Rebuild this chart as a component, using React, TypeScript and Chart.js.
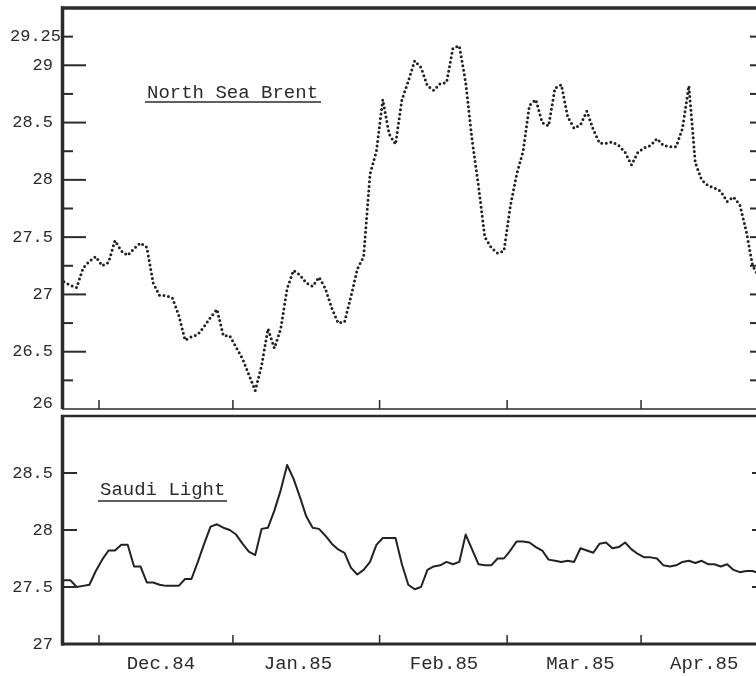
import React, { useEffect, useRef } from 'react';
import { Chart, registerables } from 'chart.js';

Chart.register(...registerables);

// x unit = weekday index, 0 = Mon 3 Dec 1984
const START_INDEX = -6;
const X_MIN = -6.3;
const X_MAX = 103.15;

const brentValues = [
  27.11, 27.08, 27.06, 27.23, 27.29, 27.33, 27.25, 27.28, 27.47, 27.38,
  27.34, 27.40, 27.45, 27.41, 27.10, 26.99, 26.99, 26.97, 26.82, 26.60,
  26.63, 26.65, 26.72, 26.80, 26.87, 26.64, 26.64, 26.54, 26.44, 26.30,
  26.16, 26.38, 26.70, 26.53, 26.70, 27.05, 27.21, 27.17, 27.10, 27.07,
  27.15, 27.05, 26.88, 26.75, 26.76, 26.98, 27.22, 27.33, 28.05, 28.25,
  28.70, 28.40, 28.31, 28.70, 28.86, 29.04, 28.98, 28.82, 28.78, 28.84,
  28.85, 29.15, 29.17, 28.85, 28.35, 27.95, 27.50, 27.41, 27.36, 27.38,
  27.77, 28.05, 28.25, 28.65, 28.70, 28.50, 28.47, 28.80, 28.83, 28.55,
  28.45, 28.48, 28.60, 28.44, 28.32, 28.32, 28.33, 28.30, 28.24, 28.13,
  28.24, 28.28, 28.30, 28.36, 28.30, 28.29, 28.29, 28.45, 28.82, 28.15,
  28.00, 27.95, 27.93, 27.90, 27.81, 27.85, 27.78, 27.55, 27.25, 27.15,
];

const saudiValues = [
  27.56, 27.56, 27.50, 27.51, 27.52, 27.64, 27.74, 27.82, 27.82, 27.87,
  27.87, 27.68, 27.68, 27.54, 27.54, 27.52, 27.51, 27.51, 27.51, 27.57,
  27.57, 27.72, 27.88, 28.03, 28.05, 28.02, 28.00, 27.96, 27.88, 27.81,
  27.78, 28.01, 28.02, 28.17, 28.35, 28.57, 28.45, 28.29, 28.12, 28.02,
  28.01, 27.95, 27.88, 27.83, 27.80, 27.67, 27.61, 27.65, 27.72, 27.87,
  27.93, 27.93, 27.93, 27.70, 27.52, 27.48, 27.50, 27.65, 27.68, 27.69,
  27.72, 27.70, 27.72, 27.96, 27.83, 27.70, 27.69, 27.69, 27.75, 27.75,
  27.82, 27.90, 27.90, 27.89, 27.85, 27.82, 27.74, 27.73, 27.72, 27.73,
  27.72, 27.84, 27.82, 27.80, 27.88, 27.89, 27.84, 27.85, 27.89, 27.83,
  27.79, 27.76, 27.76, 27.75, 27.69, 27.68, 27.69, 27.72, 27.73, 27.71,
  27.73, 27.70, 27.70, 27.68, 27.70, 27.65, 27.63, 27.64, 27.64, 27.62,
];

const monthLabels = ['Dec.84', 'Jan.85', 'Feb.85', 'Mar.85', 'Apr.85'];
const monthLabelPositions = [9.2, 30.7, 53.6, 75.0, 94.4];
const monthBoundaries = [-0.5, 20.5, 43.5, 63.5, 84.5];

const brentTickLabels = [26, 26.5, 27, 27.5, 28, 28.5, 29, 29.25];
const brentMajorTicks = [26.5, 27, 27.5, 28, 28.5, 29];
const brentMinorTicks = [26.25, 26.75, 27.25, 27.75, 28.25, 28.75, 29.25];
const brentRightTicks = [26.25, 26.5, 26.75, 27, 27.25, 27.5, 27.75, 28, 28.25, 28.5, 28.75, 29, 29.25];
const saudiTickLabels = [27, 27.5, 28, 28.5];
const saudiLeftTicks = [27.5, 28, 28.5];
const saudiRightTicks = [27.5, 28, 28.5];

const INK = '#2b2b2b';
const FONT = '"Liberation Mono", "DejaVu Sans Mono", monospace';

const toPoints = (vals: number[]) => vals.map((v, i) => ({ x: START_INDEX + i, y: v }));

function hLine(ctx: CanvasRenderingContext2D, x1: number, x2: number, y: number, w: number) {
  ctx.lineWidth = w;
  ctx.beginPath();
  ctx.moveTo(x1, y);
  ctx.lineTo(x2, y);
  ctx.stroke();
}
function vLine(ctx: CanvasRenderingContext2D, x: number, y1: number, y2: number, w: number) {
  ctx.lineWidth = w;
  ctx.beginPath();
  ctx.moveTo(x, y1);
  ctx.lineTo(x, y2);
  ctx.stroke();
}

const noPad = (s: any) => {
  s.paddingTop = 0;
  s.paddingBottom = 0;
  s.paddingLeft = 0;
  s.paddingRight = 0;
};

const topFrame = {
  id: 'topFrame',
  afterDraw(chart: any) {
    const { ctx, chartArea: a, scales } = chart;
    const xs = scales.x;
    const ys = scales.y;
    ctx.save();
    ctx.strokeStyle = INK;
    ctx.fillStyle = INK;
    ctx.lineCap = 'butt';
    vLine(ctx, a.left + 0.5, a.top - 1.5, a.bottom, 3.5);
    hLine(ctx, a.left - 1, a.right, a.top, 3.5);
    hLine(ctx, a.left, a.right, a.bottom, 1.5);
    brentMajorTicks.forEach((v) => hLine(ctx, a.left, a.left + 24, ys.getPixelForValue(v), 2));
    brentMinorTicks.forEach((v) => hLine(ctx, a.left, a.left + 11, ys.getPixelForValue(v), 2));
    brentRightTicks.forEach((v) => hLine(ctx, a.right - 10, a.right, ys.getPixelForValue(v), 2));
    monthBoundaries.forEach((m) => {
      const px = xs.getPixelForValue(m);
      vLine(ctx, px, a.bottom - 9, a.bottom, 1.5);
    });
    ctx.font = `17px ${FONT}`;
    ctx.textBaseline = 'middle';
    ctx.textAlign = 'left';
    ctx.fillText('29.25', 10, ys.getPixelForValue(29.25));
    ctx.textAlign = 'right';
    ctx.fillText('26', 53, ys.getPixelForValue(26) - 6);
    ctx.textAlign = 'left';
    ctx.font = `19px ${FONT}`;
    ctx.textBaseline = 'alphabetic';
    ctx.fillText('North Sea Brent', 147, 98);
    hLine(ctx, 145, 321, 102, 1.5);
    ctx.restore();
  },
};

const bottomFrame = {
  id: 'bottomFrame',
  afterDraw(chart: any) {
    const { ctx, chartArea: a, scales } = chart;
    const xs = scales.x;
    const ys = scales.y;
    ctx.save();
    ctx.strokeStyle = INK;
    ctx.fillStyle = INK;
    ctx.lineCap = 'butt';
    vLine(ctx, a.left + 0.5, a.top - 1, a.bottom + 1.5, 3.5);
    hLine(ctx, a.left - 1, a.right, a.top, 2.5);
    hLine(ctx, a.left - 1, a.right, a.bottom, 3);
    saudiLeftTicks.forEach((v) => hLine(ctx, a.left, a.left + 15, ys.getPixelForValue(v), 2));
    saudiRightTicks.forEach((v) => hLine(ctx, a.right - 8, a.right, ys.getPixelForValue(v), 2));
    monthBoundaries.forEach((m) => {
      const px = xs.getPixelForValue(m);
      vLine(ctx, px, a.bottom - 9, a.bottom, 1.5);
    });
    ctx.font = `19px ${FONT}`;
    ctx.textBaseline = 'alphabetic';
    ctx.textAlign = 'left';
    ctx.fillText('Saudi Light', 100, 83);
    hLine(ctx, 98, 227, 89, 1.5);
    ctx.restore();
  },
};

export default function App() {
  const topRef = useRef<HTMLCanvasElement | null>(null);
  const bottomRef = useRef<HTMLCanvasElement | null>(null);

  useEffect(() => {
    const common = {
      responsive: false,
      animation: false as const,
      plugins: { legend: { display: false }, tooltip: { enabled: false } },
      elements: { point: { radius: 0 } },
    };

    const top = new Chart(topRef.current!, {
      type: 'line',
      data: {
        datasets: [
          {
            data: toPoints(brentValues),
            borderColor: '#222',
            borderWidth: 3,
            borderDash: [0, 4.6],
            borderCapStyle: 'round',
            tension: 0,
            pointRadius: 0,
          },
        ],
      },
      options: {
        ...common,
        layout: { padding: { left: 0, top: 8, right: 10, bottom: 3 } },
        scales: {
          x: { type: 'linear', min: X_MIN, max: X_MAX, display: false },
          y: {
            type: 'linear',
            min: 26,
            max: 29.5,
            afterFit: (s: any) => {
              s.width = 62;
              noPad(s);
            },
            afterBuildTicks: (s: any) => {
              s.ticks = brentTickLabels.map((v) => ({ value: v }));
            },
            grid: { display: false, drawTicks: false },
            border: { display: false },
            ticks: {
              padding: 9,
              color: INK,
              font: { family: FONT, size: 17 },
              callback: (v: any) => (v === 29.25 || v === 26 ? '' : String(v)),
            },
          },
        },
      },
      plugins: [topFrame],
    } as any);

    const bottom = new Chart(bottomRef.current!, {
      type: 'line',
      data: {
        datasets: [
          {
            data: toPoints(saudiValues),
            borderColor: '#222',
            borderWidth: 2,
            borderJoinStyle: 'round',
            tension: 0,
            pointRadius: 0,
          },
        ],
      },
      options: {
        ...common,
        layout: { padding: { left: 0, top: 4, right: 10, bottom: 0 } },
        scales: {
          x: {
            type: 'linear',
            min: X_MIN,
            max: X_MAX,
            afterFit: (s: any) => {
              s.height = 32;
              noPad(s);
            },
            afterBuildTicks: (s: any) => {
              s.ticks = monthLabelPositions.map((v) => ({ value: v }));
            },
            grid: { display: false, drawTicks: false },
            border: { display: false },
            ticks: {
              autoSkip: false,
              maxRotation: 0,
              minRotation: 0,
              padding: 9,
              color: INK,
              font: { family: FONT, size: 19 },
              callback: (_v: any, i: number) => monthLabels[i],
            },
          },
          y: {
            type: 'linear',
            min: 27,
            max: 29,
            afterFit: (s: any) => {
              s.width = 62;
              noPad(s);
            },
            afterBuildTicks: (s: any) => {
              s.ticks = saudiTickLabels.map((v) => ({ value: v }));
            },
            grid: { display: false, drawTicks: false },
            border: { display: false },
            ticks: {
              padding: 9,
              color: INK,
              font: { family: FONT, size: 17 },
              callback: (v: any) => String(v),
            },
          },
        },
      },
      plugins: [bottomFrame],
    } as any);

    return () => {
      top.destroy();
      bottom.destroy();
    };
  }, []);

  return (
    <div
      style={{
        position: 'absolute',
        left: 0,
        top: 0,
        width: 756,
        height: 676,
        overflow: 'hidden',
        background: '#fff',
      }}
    >
      <canvas
        ref={topRef}
        width={770}
        height={412}
        style={{ position: 'absolute', left: 0, top: 0, width: 770, height: 412 }}
      />
      <canvas
        ref={bottomRef}
        width={770}
        height={264}
        style={{ position: 'absolute', left: 0, top: 412, width: 770, height: 264 }}
      />
    </div>
  );
}
